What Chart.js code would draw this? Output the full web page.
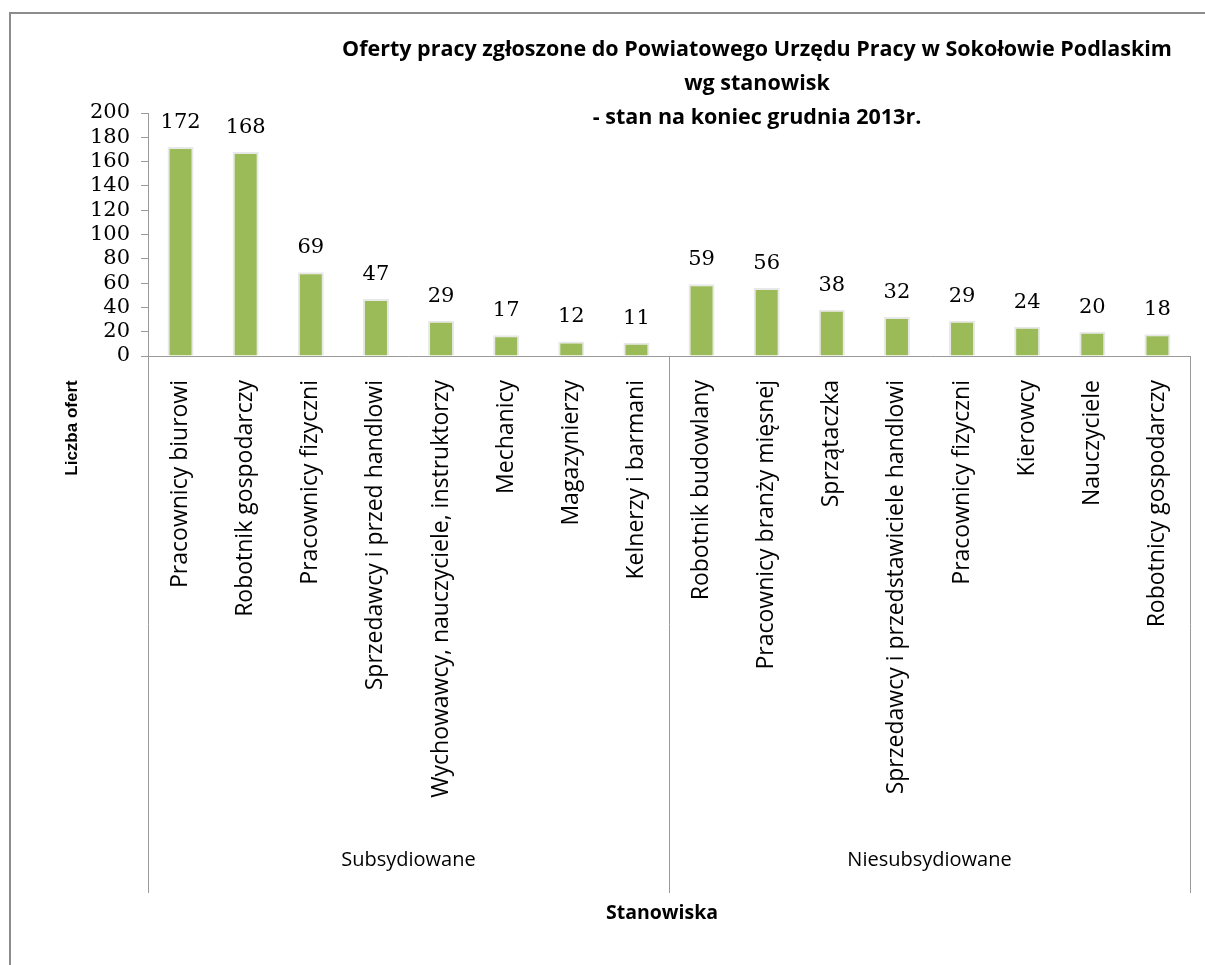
<!DOCTYPE html>
<html lang="pl">
<head>
<meta charset="utf-8">
<title>Oferty pracy</title>
<script src="https://cdn.jsdelivr.net/npm/chart.js@4/dist/chart.umd.min.js"></script>
<style>
  html, body { margin: 0; padding: 0; background: #fff; }
  .wrap { width: 1205px; height: 965px; position: relative; }
</style>
</head>
<body>
<div class="wrap"><canvas id="myChart"></canvas></div>
<script>
const categories = [
  'Pracownicy biurowi', 'Robotnik gospodarczy', 'Pracownicy fizyczni',
  'Sprzedawcy i przed handlowi', 'Wychowawcy, nauczyciele, instruktorzy',
  'Mechanicy', 'Magazynierzy', 'Kelnerzy i barmani',
  'Robotnik budowlany', 'Pracownicy branży mięsnej', 'Sprzątaczka',
  'Sprzedawcy i przedstawiciele handlowi', 'Pracownicy fizyczni',
  'Kierowcy', 'Nauczyciele', 'Robotnicy gospodarczy'
];
const offers = [172, 168, 69, 47, 29, 17, 12, 11, 59, 56, 38, 32, 29, 24, 20, 18];
const groups = ['Subsydiowane', 'Niesubsydiowane'];
const groupSizes = [8, 8];
const titleLines = [
  'Oferty pracy zgłoszone do Powiatowego Urzędu Pracy w Sokołowie Podlaskim',
  'wg stanowisk',
  '- stan na koniec grudnia 2013r.'
];
const yTitle = 'Liczba ofert';
const xTitle = 'Stanowiska';

const sans = '"Open Sans", "DejaVu Sans", sans-serif';
const numFont = '21px "DejaVu Serif", serif';
const sepColor = '#9a9a9a';

// rysowanie tytułów, etykiet wartości, grup i separatorów
const extras = {
  id: 'extras',
  afterDatasetsDraw(chart) {
    const { ctx, chartArea, scales } = chart;
    const x = scales.x;
    ctx.save();

    // ramka
    ctx.strokeStyle = '#8c8c8c';
    ctx.lineWidth = 2;
    ctx.beginPath();
    ctx.moveTo(10, 965);
    ctx.lineTo(10, 13);
    ctx.lineTo(1205, 13);
    ctx.stroke();

    // wartości nad słupkami
    ctx.fillStyle = '#000';
    ctx.font = numFont;
    ctx.textAlign = 'center';
    ctx.textBaseline = 'bottom';
    chart.getDatasetMeta(0).data.forEach((bar, i) => {
      ctx.fillText(String(offers[i]), bar.x, bar.y - 14);
    });

    // separatory grup
    const bottom = 893;
    const bounds = [chartArea.left];
    let idx = 0;
    groupSizes.forEach((n) => {
      idx += n;
      if (idx < categories.length) {
        bounds.push((x.getPixelForValue(idx - 1) + x.getPixelForValue(idx)) / 2);
      } else {
        bounds.push(chartArea.right);
      }
    });
    ctx.strokeStyle = sepColor;
    ctx.lineWidth = 1;
    bounds.forEach((bx) => {
      ctx.beginPath();
      ctx.moveTo(Math.round(bx) + 0.5, chartArea.bottom);
      ctx.lineTo(Math.round(bx) + 0.5, bottom);
      ctx.stroke();
    });

    // nazwy grup
    ctx.font = '20px ' + sans;
    ctx.textBaseline = 'middle';
    groups.forEach((g, i) => {
      ctx.fillText(g, (bounds[i] + bounds[i + 1]) / 2, 860);
    });

    // tytuł
    ctx.font = 'bold 21.5px ' + sans;
    titleLines.forEach((line, i) => {
      ctx.fillText(line, 757, 50 + i * 34);
    });

    // tytuły osi
    ctx.font = 'bold 19.5px ' + sans;
    ctx.fillText(xTitle, 662, 913);
    ctx.font = 'bold 17px "Liberation Sans", Arial, sans-serif';
    ctx.translate(72, 428);
    ctx.rotate(-Math.PI / 2);
    ctx.fillText(yTitle, 0, 0);

    ctx.restore();
  }
};

new Chart(document.getElementById('myChart'), {
  type: 'bar',
  data: {
    labels: categories,
    datasets: [{
      data: offers,
      backgroundColor: '#9bbb59',
      borderColor: 'rgba(190, 190, 190, 0.35)',
      borderWidth: 2,
      borderSkipped: 'bottom',
      barPercentage: 0.4,
      categoryPercentage: 1
    }]
  },
  options: {
    responsive: true,
    maintainAspectRatio: false,
    animation: false,
    layout: {
      padding: { top: 113, right: 15, left: 0, bottom: 0 }
    },
    plugins: {
      legend: { display: false },
      tooltip: { enabled: false }
    },
    scales: {
      x: {
        grid: {
          display: false,
          drawTicks: false
        },
        border: { display: true, color: sepColor },
        ticks: {
          minRotation: 90,
          maxRotation: 90,
          autoSkip: false,
          padding: 24,
          color: '#000',
          font: { family: sans, size: 23 }
        },
        afterFit(scale) {
          scale.height = 609;
          scale.paddingLeft = 0;
          scale.paddingRight = 0;
        }
      },
      y: {
        min: 0,
        max: 200,
        grid: {
          drawOnChartArea: false,
          drawTicks: true,
          tickLength: 7,
          color: sepColor
        },
        border: { display: true, color: sepColor },
        ticks: {
          stepSize: 20,
          autoSkip: false,
          padding: 11,
          color: '#000',
          font: { family: '"DejaVu Serif", serif', size: 21, lineHeight: 1 }
        },
        afterFit(scale) {
          scale.width = 148;
        }
      }
    }
  },
  plugins: [extras]
});
</script>
</body>
</html>
